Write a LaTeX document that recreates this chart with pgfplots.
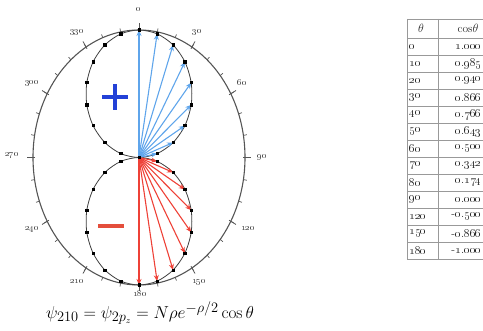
\documentclass[border=0pt]{standalone}
\usepackage{pgfplots}
\pgfplotsset{compat=1.18}
\usetikzlibrary{arrows.meta}
\definecolor{arrblue}{RGB}{95,165,235}
\definecolor{arrred}{RGB}{238,65,55}
\definecolor{plusblue}{RGB}{35,65,215}
\definecolor{minusred}{RGB}{228,78,60}
\definecolor{frame}{RGB}{85,85,85}
\newcommand\os[1]{\oldstylenums{#1}}
\begin{document}
\begin{tikzpicture}[x=1pt,y=1pt]
\useasboundingbox (0,0) rectangle (483,331);
% outer frame (unit circle of the polar diagram)
\draw[frame, line width=1.1pt] (139,173.5) ellipse [x radius=106, y radius=127.5];
\foreach \t in {0,10,...,350}{
  \draw[frame, line width=0.7pt] ({139+106*sin(\t)},{173.5+127.5*cos(\t)}) -- ({139+109.5*sin(\t)},{173.5+131*cos(\t)});
}
\foreach \t in {0,30,...,330}{
  \draw[frame, line width=0.8pt] ({139+104*sin(\t)},{173.5+125.5*cos(\t)}) -- ({139+112*sin(\t)},{173.5+134*cos(\t)});
}
\begin{axis}[at={(139pt,173.5pt)}, anchor=center, scale only axis,
  width=212pt, height=255pt, xmin=-1, xmax=1, ymin=-1, ymax=1,
  hide axis, clip=false]
% upper lobe |cos theta|, theta = -90..90 step 10
\addplot[black!75, line width=0.8pt, smooth cycle, mark=square*, mark size=1.1pt, mark options={black}] coordinates {
(0,0) (-0.1710,0.0302) (-0.3214,0.1170) (-0.4330,0.2500) (-0.4924,0.4132) (-0.4924,0.5868) (-0.4330,0.7500) (-0.3214,0.8830) (-0.1710,0.9698) (0,1) (0.1710,0.9698) (0.3214,0.8830) (0.4330,0.7500) (0.4924,0.5868) (0.4924,0.4132) (0.4330,0.2500) (0.3214,0.1170) (0.1710,0.0302)};
% lower lobe theta = 90..270
\addplot[black!75, line width=0.8pt, smooth cycle, mark=square*, mark size=1.1pt, mark options={black}] coordinates {
(0,0) (0.1710,-0.0302) (0.3214,-0.1170) (0.4330,-0.2500) (0.4924,-0.4132) (0.4924,-0.5868) (0.4330,-0.7500) (0.3214,-0.8830) (0.1710,-0.9698) (0,-1) (-0.1710,-0.9698) (-0.3214,-0.8830) (-0.4330,-0.7500) (-0.4924,-0.5868) (-0.4924,-0.4132) (-0.4330,-0.2500) (-0.3214,-0.1170) (-0.1710,-0.0302)};
% arrows
\pgfplotsset{ba/.style={arrblue, line width=1.1pt, -{Stealth[length=6pt,width=5pt]}},
             ra/.style={arrred, line width=1.1pt, -{Stealth[length=6pt,width=5pt]}}}
\addplot[ba] coordinates {(0,0) (0,1)};
\addplot[ba] coordinates {(0,0) (0.1710,0.9698)};
\addplot[ba] coordinates {(0,0) (0.3214,0.8830)};
\addplot[ba] coordinates {(0,0) (0.4330,0.7500)};
\addplot[ba] coordinates {(0,0) (0.4924,0.5868)};
\addplot[ba] coordinates {(0,0) (0.4924,0.4132)};
\addplot[ba] coordinates {(0,0) (0.4330,0.2500)};
\addplot[ba] coordinates {(0,0) (0.3214,0.1170)};
\addplot[ba] coordinates {(0,0) (0.1710,0.0302)};
\addplot[ra] coordinates {(0,0) (0.1710,-0.0302)};
\addplot[ra] coordinates {(0,0) (0.3214,-0.1170)};
\addplot[ra] coordinates {(0,0) (0.4330,-0.2500)};
\addplot[ra] coordinates {(0,0) (0.4924,-0.4132)};
\addplot[ra] coordinates {(0,0) (0.4924,-0.5868)};
\addplot[ra] coordinates {(0,0) (0.4330,-0.7500)};
\addplot[ra] coordinates {(0,0) (0.3214,-0.8830)};
\addplot[ra] coordinates {(0,0) (0.1710,-0.9698)};
\addplot[ra] coordinates {(0,0) (0,-1)};
\end{axis}
% angle labels
\begin{scope}[every node/.style={font=\fontsize{9}{10}\selectfont, text=black!70, inner sep=0pt}]
\node at (139,321) {\os{0}};
\node at (197,299) {\os{30}};
\node at (242,248) {\os{60}};
\node at (262,174) {\os{90}};
\node at (248,102) {\os{120}};
\node at (199,49) {\os{150}};
\node at (140,37) {\os{180}};
\node at (77,49) {\os{210}};
\node at (32,102) {\os{240}};
\node at (12,176) {\os{270}};
\node at (32,248) {\os{300}};
\node at (77,299) {\os{330}};
\end{scope}
% plus and minus
\draw[plusblue, line width=3.5pt] (102,234) -- (128,234);
\draw[plusblue, line width=3.5pt] (115,221) -- (115,247);
\draw[minusred, line width=3.8pt] (98,105) -- (124,105);
% formula
\node[inner sep=0pt] at (150,18) {\fontsize{19}{21}\selectfont $\psi_{210}=\psi_{2p_z}=N\rho e^{-\rho/2}\cos\theta$};
% table
\begin{scope}[gray!80, line width=0.9pt]
\draw (407,312) -- (500,312);
\draw (407,293) -- (500,293);
\foreach \k in {1,...,13}{ \draw (407,{293-17*\k}) -- (500,{293-17*\k}); }
\draw (407,312) -- (407,72);
\draw (438,312) -- (438,72);
\end{scope}
\begin{scope}[every node/.style={font=\fontsize{11.5}{12}\selectfont, inner sep=0pt, text=black!85}]
\node at (421,302.5) {$\theta$};
\node at (468,302.5) {cos$\theta$};
\foreach \k/\a/\s/\i/\f in {0/0//1/000, 1/10//0/985, 2/20//0/940, 3/30//0/866, 4/40//0/766, 5/50//0/643, 6/60//0/500, 7/70//0/342, 8/80//0/174, 9/90//0/000, 10/120/-/0/500, 11/150/-/0/866, 12/180/-/1/000}{
  \node[anchor=west] at (409,{284.5-17*\k}) {\os{\a}};
  \node[anchor=east] at (482,{284.5-17*\k}) {\s\os{\i}.\os{\f}};
}
\end{scope}
\end{tikzpicture}
\end{document}
